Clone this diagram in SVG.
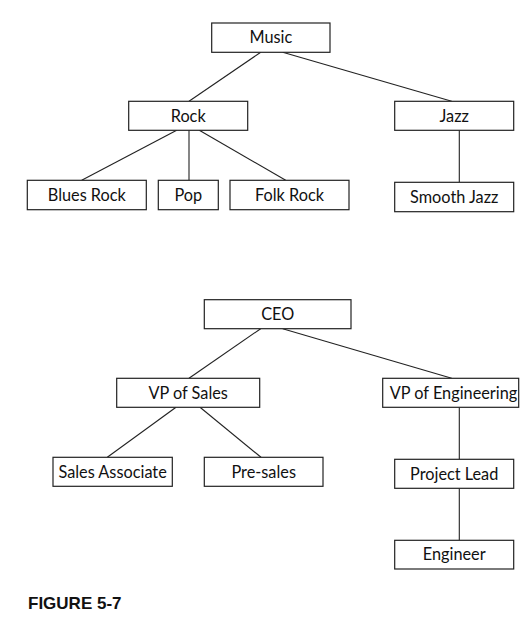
<svg xmlns="http://www.w3.org/2000/svg" width="523" height="622" viewBox="0 0 523 622">
<style>
.box{fill:#fff;stroke:#222;stroke-width:1.2}
.lbl{font-family:Lato,"Liberation Sans",sans-serif;font-size:16.3px;fill:#111;text-anchor:middle}
.conn line{stroke:#222;stroke-width:1.1}
.cap{font-family:"Liberation Sans",Arial,sans-serif;font-weight:bold;font-size:17px;fill:#111}
</style>
<rect width="523" height="622" fill="#fff"/>
<g class="conn">
<line x1="260.7" y1="52.3" x2="189" y2="101.3"/>
<line x1="282.7" y1="52.3" x2="451.7" y2="101.3"/>
<line x1="176.7" y1="130.3" x2="81.7" y2="180.3"/>
<line x1="189" y1="130.3" x2="189" y2="180.3"/>
<line x1="199.3" y1="130.3" x2="285.7" y2="180.3"/>
<line x1="459.3" y1="130.3" x2="459.3" y2="182.3"/>
<line x1="260.7" y1="328.7" x2="189" y2="378.3"/>
<line x1="282.7" y1="328.7" x2="451.7" y2="378.3"/>
<line x1="176" y1="407.3" x2="107.3" y2="457.3"/>
<line x1="200" y1="407.3" x2="261" y2="457.3"/>
<line x1="459.3" y1="407.3" x2="459.3" y2="459.3"/>
<line x1="459.3" y1="488.3" x2="459.3" y2="540.3"/>
</g>
<g id="music"><rect class="box" x="211.7" y="23" width="118.3" height="29.3"/><text class="lbl" x="270.8" y="43.3">Music</text></g>
<g id="rock"><rect class="box" x="128.7" y="101.3" width="119" height="29"/><text class="lbl" x="188.2" y="121.6">Rock</text></g>
<g id="jazz"><rect class="box" x="394.7" y="101.3" width="119" height="29"/><text class="lbl" x="454.2" y="121.6">Jazz</text></g>
<g id="blues-rock"><rect class="box" x="27.3" y="180.3" width="119" height="29.4"/><text class="lbl" x="86.8" y="200.8">Blues Rock</text></g>
<g id="pop"><rect class="box" x="158.3" y="180.3" width="60" height="29.4"/><text class="lbl" x="188.3" y="200.8">Pop</text></g>
<g id="folk-rock"><rect class="box" x="230" y="180.3" width="119" height="29.4"/><text class="lbl" x="289.5" y="200.8">Folk Rock</text></g>
<g id="smooth-jazz"><rect class="box" x="394.7" y="182.3" width="119" height="29.4"/><text class="lbl" x="454.2" y="202.8">Smooth Jazz</text></g>
<g id="ceo"><rect class="box" x="204.3" y="299.7" width="146.7" height="29"/><text class="lbl" x="277.7" y="320">CEO</text></g>
<g id="vp-sales"><rect class="box" x="116.7" y="378.3" width="143" height="29"/><text class="lbl" x="188.2" y="398.6">VP of Sales</text></g>
<g id="vp-engineering"><rect class="box" x="382.7" y="378.3" width="136" height="29"/><text class="lbl" x="453.5" y="398.6">VP of Engineering</text></g>
<g id="sales-associate"><rect class="box" x="53" y="457.3" width="119.3" height="29"/><text class="lbl" x="112.6" y="477.6">Sales Associate</text></g>
<g id="pre-sales"><rect class="box" x="204.3" y="457.3" width="118.7" height="29"/><text class="lbl" x="263.7" y="477.6">Pre-sales</text></g>
<g id="project-lead"><rect class="box" x="394.7" y="459.3" width="119" height="29"/><text class="lbl" x="454.2" y="479.6">Project Lead</text></g>
<g id="engineer"><rect class="box" x="394.7" y="540.3" width="119" height="28.7"/><text class="lbl" x="454.2" y="560.4">Engineer</text></g>
<text class="cap" x="28" y="609">FIGURE 5-7</text>
</svg>
